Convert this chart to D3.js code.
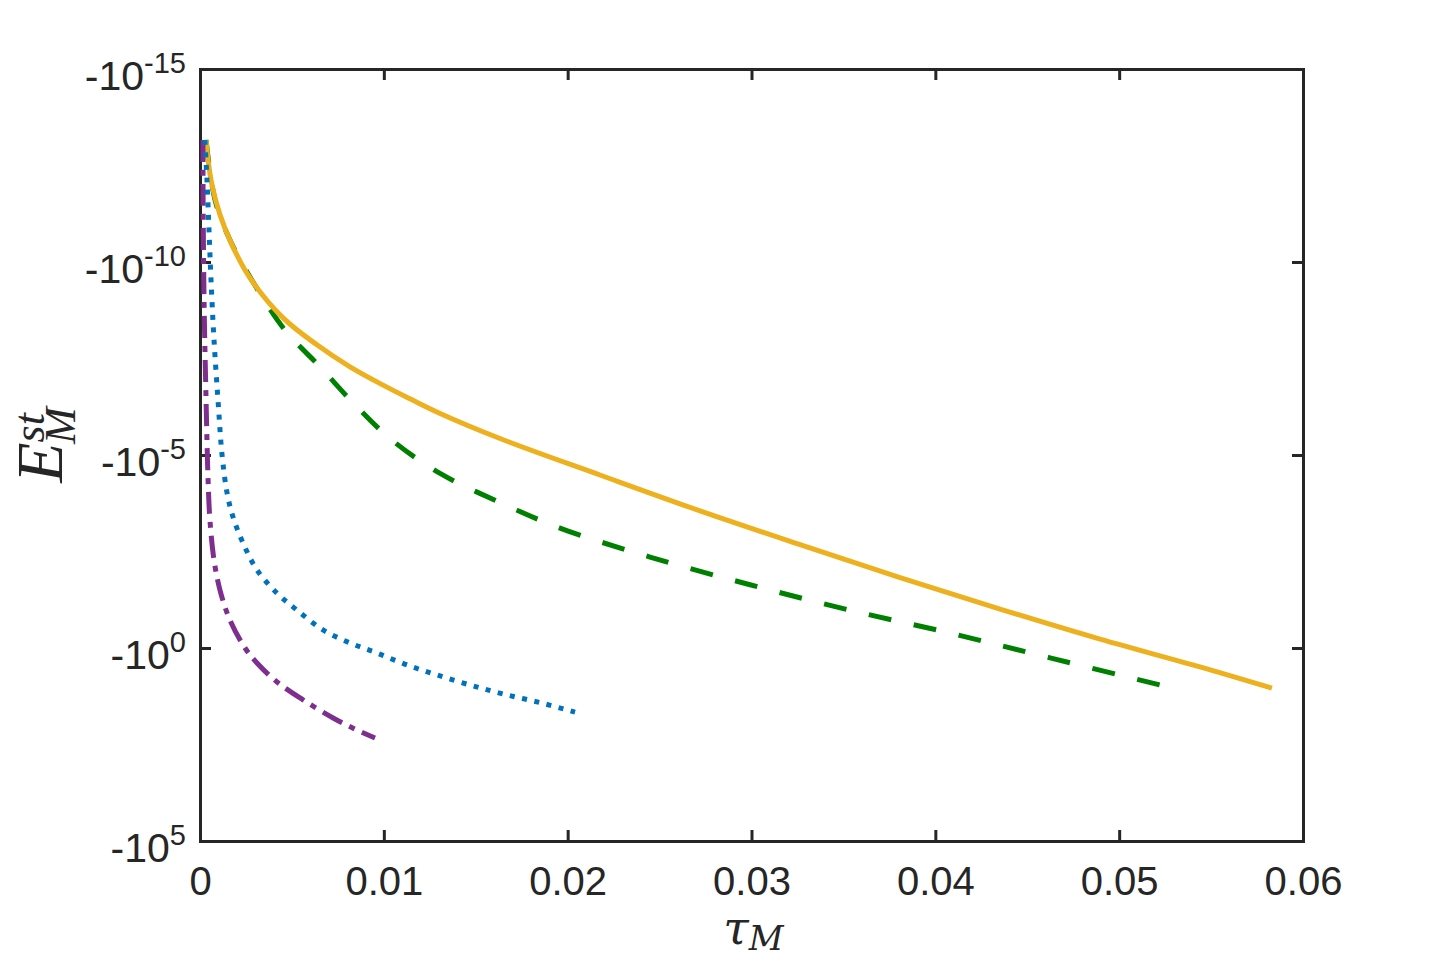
<!DOCTYPE html>
<html>
<head>
<meta charset="utf-8">
<script src="https://cdn.jsdelivr.net/npm/d3@7"></script>
<style>
  body { margin: 0; background: #fff; }
  text { font-family: "Liberation Sans", Arial, sans-serif; fill: #262626; }
</style>
</head>
<body>
<div id="svg-area"></div>
<script>
// tau_M values and E_M^st values
var tauYellow = [0.00033, 0.00044, 0.00065, 0.00109, 0.00174, 0.00272, 0.00452, 0.00636, 0.00816, 0.00996, 0.01142,
    0.01306, 0.01632, 0.02176, 0.0272, 0.03264, 0.03808, 0.04352, 0.04896, 0.0544, 0.05831];
var eYellow = [-6.9e-14, -2.3e-13, -1.0e-12, -6.0e-12, -3.6e-11, -2.6e-10, -2.8e-9, -1.4e-8, -5.2e-8, -1.55e-7, -3.5e-7,
    -8.4e-7, -3.74e-6, -3.3e-5, -2.8e-4, -2.1e-3, -1.5e-2, -9.8e-2, -0.59, -3.1, -11];

var tauGreen = [0.00033, 0.00082, 0.00163, 0.00299, 0.00462, 0.00653, 0.00843, 0.01044, 0.01306, 0.01632,
    0.01958, 0.02448, 0.02992, 0.03536, 0.0408, 0.04624, 0.05222];
var eGreen = [-6.9e-14, -2.5e-12, -2.7e-11, -4.0e-10, -5.8e-9, -5.2e-8, -5.0e-7, -4.1e-6, -3.0e-5, -1.7e-4,
    -7.8e-4, -4.4e-3, -2.3e-2, -0.105, -0.41, -1.8, -9.1];

var tauBlue = [0.00027, 0.00038, 0.00049, 0.0006, 0.00076, 0.00098, 0.0012, 0.00147, 0.0018, 0.00234, 0.0031,
    0.00419, 0.00528, 0.00669, 0.00816, 0.00963, 0.01126, 0.01289, 0.01469, 0.01648, 0.0185, 0.0204];
var eBlue = [-6.9e-14, -7.6e-13, -1.5e-11, -3.0e-10, -1.0e-8, -3.8e-7, -1.0e-5, -9.5e-5, -4.1e-4, -1.9e-3, -9.5e-3,
    -3.8e-2, -0.105, -0.34, -0.74, -1.35, -2.75, -5.0, -9.1, -15.5, -26, -46];

var tauPurple = [0.00016, 0.00017, 0.00022, 0.00033, 0.00044, 0.00054, 0.00076, 0.00109, 0.00163, 0.00245,
    0.0031, 0.00419, 0.0056, 0.00724, 0.00843, 0.00952];
var ePurple = [-6.9e-14, -2.5e-12, -9.5e-10, -3.8e-7, -4.5e-5, -4.8e-4, -5.2e-3, -3.2e-2, -0.19, -1.0,
    -2.45, -7.6, -22, -65, -126, -214];

var xTicks = [0, 0.01, 0.02, 0.03, 0.04, 0.05, 0.06];
var xTickLabels = ["0", "0.01", "0.02", "0.03", "0.04", "0.05", "0.06"];
var yTicks = [-1e-15, -1e-10, -1e-5, -1, -1e5];
var yTickExps = ["-15", "-10", "-5", "0", "5"];

var margin = {top: 69, right: 135, bottom: 120, left: 200},
    width = 1438 - margin.left - margin.right,
    height = 961 - margin.top - margin.bottom;

var svg = d3.select("#svg-area")
    .append("svg")
    .attr("width", 1438)
    .attr("height", 961)
    .append("g")
    .attr("transform", "translate(" + margin.left + "," + margin.top + ")");

var x = d3.scaleLinear().domain([0, 0.06]).range([0, width]);
// log scale on the magnitude, negative values grow downward
var yLog = d3.scaleLog().domain([1e-15, 1e5]).range([0, height]);
function y(v) { return yLog(-v); }

var axisColor = "#262626";

// bottom axis, ticks pointing inward
var gx = svg.append("g")
    .attr("transform", "translate(0," + height + ")")
    .call(d3.axisBottom(x).tickValues(xTicks).tickSize(-11).tickPadding(26)
        .tickFormat(function(d, i) { return xTickLabels[i]; }));
gx.selectAll("text").style("font-size", "40px").attr("fill", axisColor);

svg.append("g")
    .call(d3.axisTop(x).tickValues(xTicks).tickSize(-11).tickFormat(""));

// left axis
var gy = svg.append("g")
    .call(d3.axisLeft(yLog).tickValues(yTicks.map(function(d) { return -d; })).tickSize(-11).tickFormat(""));
gy.selectAll(".tick").each(function(d, i) {
    var t = d3.select(this).append("text")
        .attr("x", -14)
        .attr("dy", "0.5em")
        .attr("text-anchor", "end")
        .style("font-size", "41px")
        .attr("fill", axisColor);
    t.append("tspan").text("-10");
    t.append("tspan").attr("dy", "-0.6em").style("font-size", "29px").text(yTickExps[i]);
});

svg.append("g")
    .attr("transform", "translate(" + width + ",0)")
    .call(d3.axisRight(yLog).tickValues(yTicks.map(function(d) { return -d; })).tickSize(-11).tickFormat(""));

svg.selectAll(".domain").attr("stroke", axisColor).attr("stroke-width", 3);
svg.selectAll(".tick line").attr("stroke", axisColor).attr("stroke-width", 3);

// curves
var line = d3.line()
    .x(function(d) { return x(d[0]); })
    .y(function(d) { return y(d[1]); })
    .curve(d3.curveCatmullRom.alpha(0.5));

function drawSeries(tau, e, color, dash) {
    svg.append("path")
        .datum(d3.zip(tau, e))
        .attr("d", line)
        .attr("fill", "none")
        .attr("stroke", color)
        .attr("stroke-width", 5)
        .attr("stroke-dasharray", dash);
}

drawSeries(tauGreen, eGreen, "#008000", "23,23");
drawSeries(tauYellow, eYellow, "#EDB120", null);
drawSeries(tauPurple, ePurple, "#7E2F8E", "22,8,6,8");
drawSeries(tauBlue, eBlue, "#0072BD", "5,7.5");

// axis labels
var xl = svg.append("text")
    .attr("x", width / 2 + 2)
    .attr("y", height + 103)
    .attr("text-anchor", "middle")
    .style("font-family", "'DejaVu Serif', 'Liberation Serif', serif")
    .style("font-style", "italic")
    .style("font-size", "46px")
    .attr("fill", "#000");
xl.append("tspan").text("\u03C4");
xl.append("tspan").attr("dy", "0.18em").style("font-size", "34px").text("M");

var yl = svg.append("text")
    .attr("transform", "translate(-138," + (height / 2 - 10) + ")rotate(-90)")
    .attr("text-anchor", "middle")
    .style("font-family", "'Liberation Serif', 'DejaVu Serif', serif")
    .style("font-style", "italic")
    .style("font-size", "66px")
    .attr("fill", "#000");
yl.append("tspan").text("E");
yl.append("tspan").attr("dy", "-0.42em").style("font-size", "44px").text("st");
yl.append("tspan").attr("dx", "-0.7em").attr("dy", "0.72em").style("font-size", "44px").text("M");
</script>
</body>
</html>
